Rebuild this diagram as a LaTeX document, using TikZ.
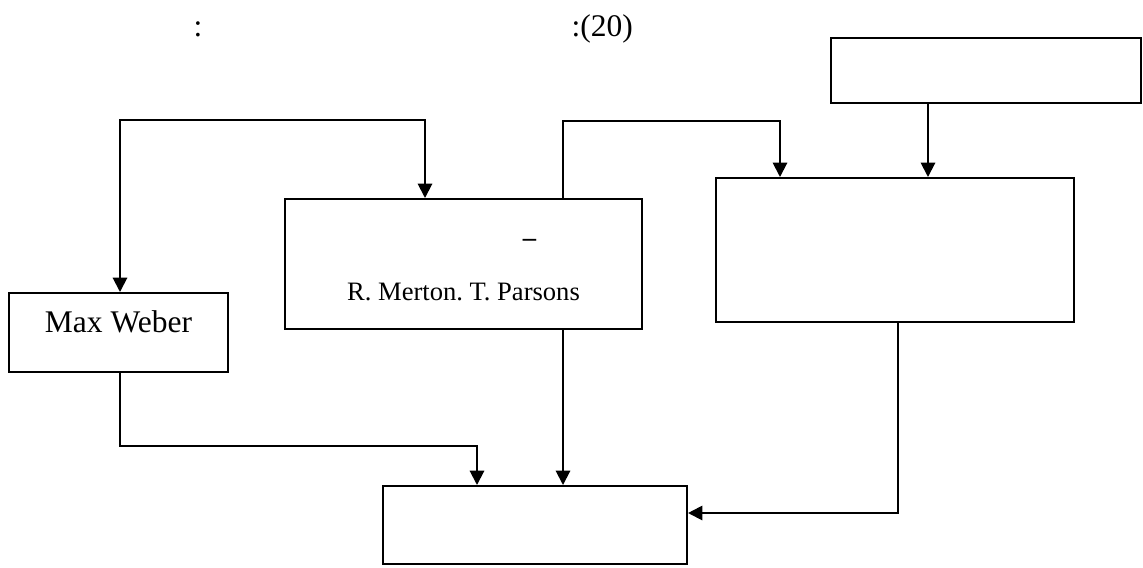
\documentclass[tikz,border=0pt]{standalone}
\usepackage{fontspec}
\setmainfont{Liberation Serif}
\usetikzlibrary{arrows.meta}
\frenchspacing

\begin{document}
\begin{tikzpicture}[x=0.025cm, y=-0.025cm, ->, >={Triangle[length=3.6mm, width=3.6mm]}, line width=1.4pt,
    box/.style={rectangle, draw, line width=1.4pt, inner sep=0pt},
    big/.style={font=\fontsize{22.4pt}{26pt}\selectfont},
    small/.style={font=\fontsize{18.9pt}{22pt}\selectfont}]
    \useasboundingbox (0,0) rectangle (1143,567);

        % Title.
        \node[big, anchor=base] (colon) at (198,36) {:};
        \node[big, anchor=base west] (number) at (566,36) {:(20)};

        % Boxes.
        \node[box, minimum width=7.75cm, minimum height=1.625cm] (Top) at (986,70.5) {};
        \node[box, minimum width=8.95cm, minimum height=3.6cm] (Right) at (895,250) {};
        \node[box, minimum width=8.925cm, minimum height=3.25cm] (Mid) at (463.5,264) {};
        \node[box, big, minimum width=5.475cm, minimum height=1.975cm, text height=5mm, text depth=5mm] (Weber) at (118.5,332.5) {Max Weber};
        \node[box, minimum width=7.6cm, minimum height=1.95cm] (Bottom) at (535,525) {};

        % Names in the middle box.
        \node[anchor=base, font=\fontsize{18.9pt}{22pt}\selectfont\bfseries] (dash) at (529.5,246) {--};
        \node[small, anchor=base] (names) at (463.5,300) {R. Merton. T. Parsons};

        % Top box into the right box.
        \draw (928,0 |- Top.south) -- (928,0 |- Right.north);

        % Middle box over into the right box.
        \draw (563,0 |- Mid.north) |- (780,121) -- (780,0 |- Right.north);

        % Weber and the middle box.
        \draw[<->] (120,0 |- Weber.north) |- (425,120) -- (425,0 |- Mid.north);

        % Into the bottom box.
        \draw (120,0 |- Weber.south) |- (477,446) -- (477,0 |- Bottom.north);
        \draw (563,0 |- Mid.south) -- (563,0 |- Bottom.north);
        \draw (898,0 |- Right.south) |- (Bottom.east |- 0,513);

    \end{tikzpicture}
\end{document}
